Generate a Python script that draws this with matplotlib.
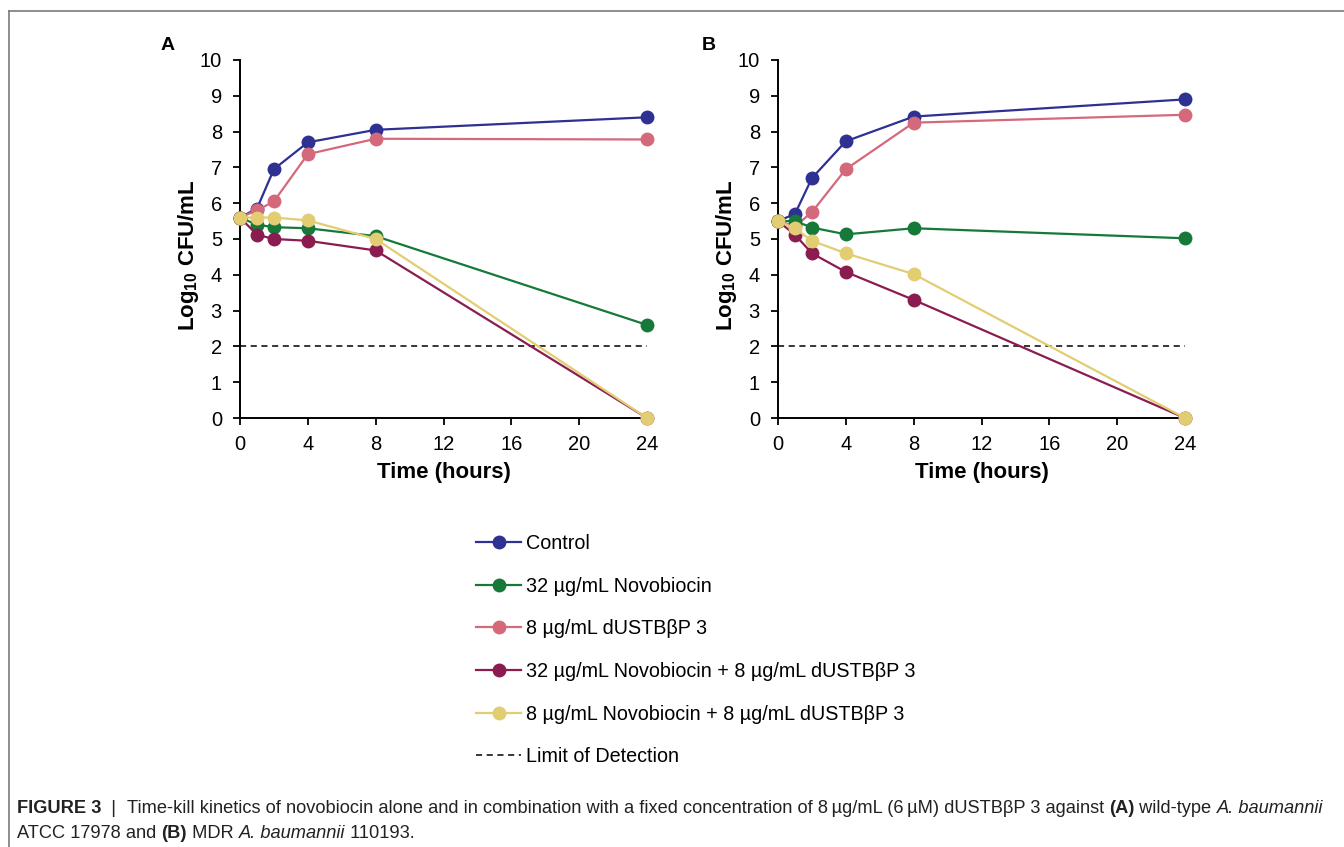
import matplotlib
matplotlib.use("Agg")
import matplotlib.pyplot as plt
from matplotlib.lines import Line2D
from matplotlib import font_manager

plt.rcParams['font.family'] = ['Liberation Sans', 'DejaVu Sans']
plt.rcParams['mathtext.fontset'] = 'custom'
plt.rcParams['mathtext.rm'] = 'Liberation Sans'
plt.rcParams['mathtext.bf'] = 'Liberation Sans:bold'

# data
hours = [0, 1, 2, 4, 8, 24]
series_names = ['Control', '32 µg/mL Novobiocin', '8 µg/mL dUSTBβP 3',
                '32 µg/mL Novobiocin + 8 µg/mL dUSTBβP 3',
                '8 µg/mL Novobiocin + 8 µg/mL dUSTBβP 3']
colors = ['#2e3092', '#16793a', '#d4697b', '#8a1c50', '#e2cd72']

a_control = [5.6, 5.85, 6.95, 7.7, 8.05, 8.4]
a_novo = [5.6, 5.4, 5.33, 5.3, 5.08, 2.6]
a_dustb = [5.6, 5.8, 6.05, 7.37, 7.8, 7.78]
a_combo32 = [5.6, 5.12, 5.0, 4.95, 4.68, 0]
a_combo8 = [5.6, 5.6, 5.6, 5.52, 5.0, 0]

b_control = [5.5, 5.7, 6.7, 7.73, 8.42, 8.9]
b_novo = [5.5, 5.5, 5.32, 5.13, 5.3, 5.02]
b_dustb = [5.5, 5.35, 5.75, 6.95, 8.25, 8.47]
b_combo32 = [5.5, 5.12, 4.6, 4.08, 3.3, 0]
b_combo8 = [5.5, 5.3, 4.95, 4.6, 4.02, 0]

lod = 2

W, H = 1344, 847
fig = plt.figure(figsize=(W / 100, H / 100), dpi=100)

# thin grey frame like the journal page
fig.add_artist(Line2D([9 / W, 9 / W], [0, 1 - 11 / H], color='#7a7a7a', lw=1.2))
fig.add_artist(Line2D([9 / W, 1], [1 - 11 / H, 1 - 11 / H], color='#7a7a7a', lw=1.2))

draw_order = [0, 2, 1, 3, 4]


def panel(left, vals, letter, letter_x):
    ax = fig.add_axes([left / W, 1 - 418 / H, 407 / W, 358 / H])
    handles = {}
    for i in draw_order:
        h, = ax.plot(hours, vals[i], color=colors[i], lw=1.6, marker='o',
                     markersize=10, markeredgewidth=0, label=series_names[i],
                     clip_on=False, zorder=3)
        handles[i] = h
    ld, = ax.plot([0, 24], [lod, lod], color='black', lw=1.1, ls=(0, (4, 3)),
                  label='Limit of Detection', zorder=2)
    ax.set_xlim(0, 24)
    ax.set_ylim(0, 10)
    ax.set_xticks([0, 4, 8, 12, 16, 20, 24])
    ax.set_yticks(range(0, 11))
    for s in ['top', 'right']:
        ax.spines[s].set_visible(False)
    for s in ['left', 'bottom']:
        ax.spines[s].set_linewidth(1.4)
    ax.tick_params(direction='out', length=5, width=1.3, labelsize=14.5)
    ax.tick_params(axis='y', pad=8)
    ax.tick_params(axis='x', pad=7)
    ax.set_xlabel('Time (hours)', fontsize=16, fontweight='bold', labelpad=6)
    ax.set_ylabel(r'$\mathbf{Log_{10}}$ CFU/mL', fontsize=16, fontweight='bold')
    ax.yaxis.set_label_coords(-0.095, 0.455)
    fig.text(letter_x / W, 1 - 45 / H, letter, fontsize=14, fontweight='bold',
             ha='center', va='center')
    return [handles[i] for i in range(5)] + [ld]


hs = panel(240, [a_control, a_novo, a_dustb, a_combo32, a_combo8], 'A', 168)
panel(778, [b_control, b_novo, b_dustb, b_combo32, b_combo8], 'B', 709)

fig.legend(handles=hs, labels=[h.get_label() for h in hs], loc='upper left',
           bbox_to_anchor=(476 / W, 1 - 534 / H), frameon=False, fontsize=14.2,
           borderpad=0, borderaxespad=0, labelspacing=1.2, handlelength=2.3,
           handletextpad=0.25)

# caption drawn as runs of text with mixed weights/styles
cap_color = '#222222'
line1 = [('FIGURE 3', 'bold', 'normal'), ('  |  ', 'normal', 'normal'),
         ('Time-kill kinetics of novobiocin alone and in combination with a fixed '
          'concentration of 8\u2009µg/mL (6\u2009µM) dUSTBβP 3 against ', 'normal', 'normal'),
         ('(A)', 'bold', 'normal'), (' wild-type ', 'normal', 'normal'),
         ('A. baumannii', 'normal', 'italic')]
line2 = [('ATCC 17978 and ', 'normal', 'normal'), ('(B)', 'bold', 'normal'),
         (' MDR ', 'normal', 'normal'), ('A. baumannii', 'normal', 'italic'),
         (' 110193.', 'normal', 'normal')]

cap_fams = ['Liberation Sans Narrow', 'Liberation Sans', 'DejaVu Sans']
have_narrow = any('Narrow' in f.name for f in font_manager.fontManager.ttflist)
if not have_narrow:
    cap_fams = ['Liberation Sans', 'DejaVu Sans']

renderer = fig.canvas.get_renderer()


def run_width(runs, size):
    total = 0
    for txt, wt, st in runs:
        t = fig.text(0, 0, txt, fontsize=size, fontweight=wt, fontstyle=st,
                     family=cap_fams)
        total += t.get_window_extent(renderer).width
        t.remove()
    return total


size = 12
w1 = run_width(line1, size)
target = 1322 - 17
size = size * target / w1


def draw_runs(runs, x, y, size):
    for txt, wt, st in runs:
        t = fig.text(x / W, 1 - y / H, txt, fontsize=size, fontweight=wt,
                     fontstyle=st, family=cap_fams, color=cap_color, va='center')
        x += t.get_window_extent(renderer).width


draw_runs(line1, 17, 808, size)
draw_runs(line2, 17, 833, size)

fig.savefig('out.png', dpi=100)
